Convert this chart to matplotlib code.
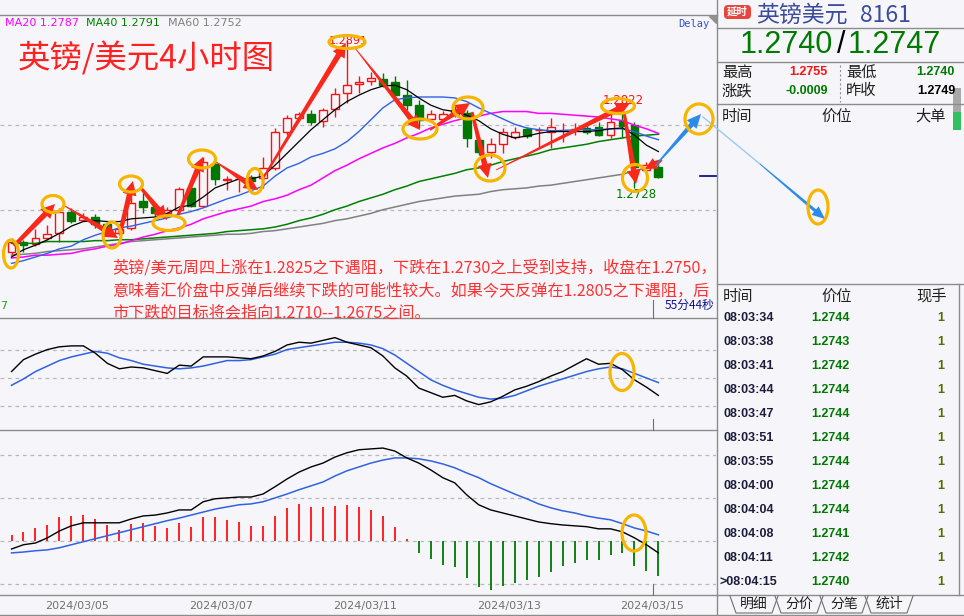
import matplotlib
matplotlib.use('Agg')
import matplotlib.pyplot as plt
import numpy as np
from matplotlib.patches import Ellipse, Polygon, Rectangle, FancyBboxPatch

plt.rcParams['font.family'] = ['Noto Sans CJK SC', 'DejaVu Sans']

# ---------------- data ----------------
opens = [1.2658, 1.2669, 1.2666, 1.2673, 1.2678, 1.2702, 1.2693, 1.2696, 1.2688, 1.2678,
         1.2684, 1.2714, 1.2707, 1.2700, 1.2704, 1.2728, 1.2708, 1.2754, 1.2737, 1.2738,
         1.2740, 1.2739, 1.2750, 1.2790, 1.2805, 1.2809, 1.2802, 1.2815, 1.2832, 1.2842,
         1.2846, 1.2848, 1.2844, 1.2830, 1.2819, 1.2804, 1.2804, 1.2808, 1.2810, 1.2781,
         1.2768, 1.2776, 1.2784, 1.2793, 1.2792, 1.2790, 1.2792, 1.2793, 1.2794, 1.2795,
         1.2786, 1.2802, 1.2797, 1.2748, 1.2751]
highs = [1.2673, 1.2671, 1.2683, 1.2687, 1.2706, 1.2706, 1.2700, 1.2699, 1.2690, 1.2688,
         1.2722, 1.2722, 1.2709, 1.2707, 1.2729, 1.2731, 1.2762, 1.2759, 1.2741, 1.2740,
         1.2742, 1.2762, 1.2794, 1.2808, 1.2812, 1.2814, 1.2816, 1.2838, 1.2891, 1.2851,
         1.2856, 1.2854, 1.2851, 1.2847, 1.2825, 1.2814, 1.2813, 1.2818, 1.2814, 1.2784,
         1.2783, 1.2794, 1.2795, 1.2795, 1.2795, 1.2805, 1.2799, 1.2799, 1.2799, 1.2800,
         1.2810, 1.2822, 1.2800, 1.2757, 1.2755]
lows = [1.2653, 1.2658, 1.2664, 1.2671, 1.2669, 1.2689, 1.2692, 1.2684, 1.2675, 1.2676,
        1.2682, 1.2700, 1.2696, 1.2696, 1.2702, 1.2707, 1.2707, 1.2731, 1.2726, 1.2724,
        1.2732, 1.2728, 1.2748, 1.2786, 1.2803, 1.2797, 1.2795, 1.2806, 1.2821, 1.2832,
        1.2841, 1.2839, 1.2829, 1.2814, 1.2794, 1.2802, 1.2803, 1.2806, 1.2773, 1.2764,
        1.2761, 1.2766, 1.2782, 1.2783, 1.2773, 1.2772, 1.2778, 1.2786, 1.2787, 1.2785,
        1.2783, 1.2783, 1.2728, 1.2746, 1.2739]
closes = [1.2669, 1.2665, 1.2673, 1.2677, 1.2702, 1.2692, 1.2696, 1.2688, 1.2680, 1.2683,
          1.2711, 1.2707, 1.2700, 1.2704, 1.2727, 1.2708, 1.2757, 1.2738, 1.2738, 1.2738,
          1.2736, 1.2750, 1.2790, 1.2805, 1.2809, 1.2801, 1.2814, 1.2831, 1.2841, 1.2844,
          1.2849, 1.2841, 1.2830, 1.2819, 1.2803, 1.2809, 1.2809, 1.2814, 1.2783, 1.2768,
          1.2776, 1.2790, 1.2790, 1.2785, 1.2792, 1.2795, 1.2792, 1.2793, 1.2790, 1.2786,
          1.2800, 1.2796, 1.2751, 1.2753, 1.2740]

ma5 = [1.2652, 1.2660, 1.2665, 1.2671, 1.2678, 1.2686, 1.2691, 1.2692, 1.2691, 1.2691,
       1.2694, 1.2695, 1.2696, 1.2700, 1.2707, 1.2709, 1.2718, 1.2728, 1.2733, 1.2738,
       1.2738, 1.2741, 1.2753, 1.2766, 1.2779, 1.2792, 1.2803, 1.2814, 1.2823, 1.2830,
       1.2836, 1.2840, 1.2841, 1.2836, 1.2827, 1.2819, 1.2814, 1.2812, 1.2808, 1.2802,
       1.2793, 1.2787, 1.2783, 1.2785, 1.2788, 1.2790, 1.2790, 1.2790, 1.2790, 1.2791,
       1.2793, 1.2794, 1.2786, 1.2775, 1.2768]
ma10 = [1.2645, 1.2648, 1.2652, 1.2656, 1.2661, 1.2664, 1.2671, 1.2676, 1.2680, 1.2684,
        1.2686, 1.2689, 1.2692, 1.2695, 1.2699, 1.2702, 1.2706, 1.2711, 1.2716, 1.2720,
        1.2725, 1.2730, 1.2741, 1.2750, 1.2755, 1.2762, 1.2766, 1.2771, 1.2779, 1.2790,
        1.2803, 1.2816, 1.2825, 1.2827, 1.2828, 1.2828, 1.2828, 1.2827, 1.2823, 1.2816,
        1.2810, 1.2804, 1.2798, 1.2794, 1.2792, 1.2791, 1.2791, 1.2792, 1.2792, 1.2792,
        1.2793, 1.2793, 1.2790, 1.2785, 1.2781]
ma20 = [1.2651, 1.2652, 1.2654, 1.2654, 1.2655, 1.2656, 1.2659, 1.2661, 1.2664, 1.2666,
        1.2670, 1.2674, 1.2677, 1.2681, 1.2684, 1.2688, 1.2694, 1.2698, 1.2702, 1.2705,
        1.2708, 1.2713, 1.2716, 1.2720, 1.2726, 1.2731, 1.2739, 1.2747, 1.2753, 1.2760,
        1.2766, 1.2772, 1.2777, 1.2783, 1.2788, 1.2794, 1.2798, 1.2802, 1.2805, 1.2807,
        1.2810, 1.2812, 1.2812, 1.2812, 1.2810, 1.2810, 1.2809, 1.2808, 1.2807, 1.2806,
        1.2804, 1.2802, 1.2797, 1.2793, 1.2788]
ma40 = [1.2667, 1.2667, 1.2667, 1.2669, 1.2669, 1.2669, 1.2669, 1.2670, 1.2670, 1.2671,
        1.2671, 1.2672, 1.2673, 1.2674, 1.2675, 1.2676, 1.2677, 1.2678, 1.2680, 1.2681,
        1.2682, 1.2683, 1.2685, 1.2688, 1.2692, 1.2695, 1.2699, 1.2704, 1.2708, 1.2713,
        1.2717, 1.2721, 1.2726, 1.2730, 1.2735, 1.2738, 1.2741, 1.2744, 1.2748, 1.2750,
        1.2753, 1.2757, 1.2760, 1.2763, 1.2766, 1.2770, 1.2772, 1.2774, 1.2776, 1.2779,
        1.2781, 1.2783, 1.2785, 1.2786, 1.2787]
ma60 = [1.2654, 1.2655, 1.2656, 1.2658, 1.2659, 1.2660, 1.2661, 1.2663, 1.2665, 1.2667,
        1.2669, 1.2670, 1.2671, 1.2672, 1.2673, 1.2674, 1.2675, 1.2676, 1.2677, 1.2677,
        1.2678, 1.2680, 1.2681, 1.2683, 1.2685, 1.2687, 1.2689, 1.2692, 1.2694, 1.2697,
        1.2700, 1.2704, 1.2707, 1.2710, 1.2713, 1.2715, 1.2717, 1.2719, 1.2720, 1.2721,
        1.2724, 1.2726, 1.2727, 1.2728, 1.2730, 1.2731, 1.2733, 1.2735, 1.2737, 1.2739,
        1.2741, 1.2743, 1.2747, 1.2750, 1.2753]

k_line = [57, 70, 76, 81, 84, 85, 85, 77, 66, 60, 62, 61, 58, 55, 64, 63, 73, 73, 73, 72,
          71, 74, 79, 86, 89, 88, 91, 94, 89, 86, 83, 74, 61, 52, 39, 34, 29, 31, 25, 21,
          24, 30, 37, 41, 46, 52, 57, 64, 71, 65, 66, 59, 48, 40, 31]
d_line = [42, 49, 57, 63, 69, 73, 76, 79, 77, 72, 69, 65, 63, 61, 60, 61, 63, 66, 69, 69,
          70, 73, 76, 81, 83, 85, 87, 89, 89, 88, 86, 82, 75, 66, 57, 48, 42, 37, 33, 29,
          27, 28, 31, 36, 41, 45, 49, 53, 57, 60, 62, 60, 55, 50, 45]
kd_grid = [80, 50, 20]

dif = [-1.9, -0.9, -0.5, 0.7, 2.3, 3.5, 4.2, 4.2, 4.2, 4.2, 5.1, 5.8, 6.0, 6.5, 7.2, 7.2,
       9.1, 9.8, 10.0, 10.2, 10.2, 10.9, 12.6, 14.4, 16.0, 17.2, 18.1, 19.5, 20.5, 21.2,
       21.4, 21.6, 20.9, 19.3, 18.1, 16.5, 14.7, 13.5, 10.7, 8.4, 7.2, 6.5, 5.8, 5.1, 4.4,
       4.0, 3.7, 3.5, 3.3, 2.8, 2.8, 2.1, 0.7, -0.9, -2.8]
dea = [-2.8, -2.6, -2.3, -2.1, -1.6, -0.9, -0.2, 0.5, 1.2, 1.9, 2.6, 3.3, 4.0, 4.7, 5.3,
       6.0, 6.7, 7.4, 7.9, 8.4, 8.6, 9.1, 10.0, 10.9, 11.9, 12.8, 13.7, 15.1, 16.3, 17.2,
       18.1, 18.8, 19.3, 19.3, 19.1, 18.6, 17.9, 17.0, 15.8, 14.7, 13.3, 12.1, 10.9, 9.8,
       8.6, 7.7, 7.0, 6.5, 5.8, 5.3, 4.9, 4.0, 3.0, 2.3, 1.4]
hist = [1.4, 2.1, 3.0, 3.7, 5.6, 5.8, 6.0, 5.1, 3.7, 2.6, 4.0, 4.2, 3.5, 3.0, 4.2, 3.3,
        5.6, 5.6, 4.9, 4.4, 3.5, 3.5, 5.8, 7.7, 8.6, 7.9, 7.9, 8.1, 8.4, 7.9, 7.2, 5.8,
        3.3, 0.5, -2.8, -4.2, -5.6, -6.0, -8.6, -10.7, -11.4, -10.5, -9.8, -9.1, -8.4,
        -7.2, -5.8, -5.1, -4.4, -4.4, -3.3, -2.8, -5.8, -7.0, -8.1]
macd_grid = [20, 10, 0, -10]

main_grid = [1.2797, 1.2704]
date_pos = [5.5, 17.5, 29.5, 41.5, 53.5]
date_labels = ['2024/03/05', '2024/03/07', '2024/03/11', '2024/03/13', '2024/03/15']

ma_legend = [('MA20', '1.2787'), ('MA40', '1.2791'), ('MA60', '1.2752')]
title = '英镑/美元4小时图'
comment = ['英镑/美元周四上涨在1.2825之下遇阻，下跌在1.2730之上受到支持，收盘在1.2750，',
           '意味着汇价盘中反弹后继续下跌的可能性较大。如果今天反弹在1.2805之下遇阻，后',
           '市下跌的目标将会指向1.2710--1.2675之间。']
high_label, mid_label, low_label = '1.2891', '1.2822', '1.2728'

quote_name, quote_code = '英镑美元', '8161'
bid, ask = '1.2740', '1.2747'
info_rows = [('最高', '1.2755', '最低', '1.2740'), ('涨跌', '-0.0009', '昨收', '1.2749')]
tick_times = ['08:03:34', '08:03:38', '08:03:41', '08:03:44', '08:03:47', '08:03:51',
              '08:03:55', '08:04:00', '08:04:04', '08:04:08', '08:04:11', '>08:04:15']
tick_prices = ['1.2744', '1.2743', '1.2742', '1.2744', '1.2744', '1.2744',
               '1.2744', '1.2744', '1.2744', '1.2741', '1.2742', '1.2740']
tick_vols = [1] * 12
tabs = ['明细', '分价', '分笔', '统计']

# ---------------- style ----------------
W, H = 964, 616
BG = '#f6f6fa'
RED = '#ff1010'
GREEN = '#007800'
BLUE = '#2f62e0'
MAG = '#ff00ff'
GRAY = '#808080'
YEL = '#f7b500'
ARROW_RED = '#f8281a'

fig = plt.figure(figsize=(W / 100, H / 100), dpi=100, facecolor=BG)


def px_axes(x0, y0, x1, y1):
    return fig.add_axes([x0 / W, 1 - y1 / H, (x1 - x0) / W, (y1 - y0) / H])


step = 11.98
XL = (-11.5 / step, (716 - 11.5) / step)
ax = px_axes(0, 15, 716, 318)
ax1 = px_axes(0, 318, 716, 430)
ax2 = px_axes(0, 430, 716, 595)
for a in (ax, ax1, ax2):
    a.set_facecolor(BG)
    a.set_xlim(*XL)
    for s in a.spines.values():
        s.set_visible(False)
    a.set_yticks([])
    a.set_xticks([])

ax.set_ylim(1.25849, 1.29182)
ax1.set_ylim(-6.7, 115.4)
ax2.set_ylim(-12.6, 25.8)

dash = dict(color='#b8b8b8', lw=0.9, ls=(0, (3, 3)))
for g in main_grid:
    ax.axhline(g, **dash, zorder=0)
for g in kd_grid:
    ax1.axhline(g, **dash, zorder=0)
for g in macd_grid:
    ax2.axhline(g, **dash, zorder=0)

# candles
x = np.arange(len(opens))
o, h, l, c = map(np.array, (opens, highs, lows, closes))
up = c >= o
bw = 0.66
ax.vlines(x, l, h, colors=[RED if u else GREEN for u in up], lw=1, zorder=2)
bot = np.minimum(o, c)
hh = np.maximum(np.abs(c - o), 0.00002)
ax.bar(x[up], hh[up], bottom=bot[up], width=bw, facecolor=BG, edgecolor=RED, lw=1, zorder=3)
ax.bar(x[~up], hh[~up], bottom=bot[~up], width=bw, facecolor=GREEN, edgecolor=GREEN, lw=1, zorder=3)

ax.plot(x, ma60, color=GRAY, lw=1.1, zorder=4)
ax.plot(x, ma40, color='#008000', lw=1.1, zorder=4)
ax.plot(x, ma20, color=MAG, lw=1.1, zorder=4)
ax.plot(x, ma10, color=BLUE, lw=1.0, zorder=4)
ax.plot(x, ma5, color='black', lw=0.9, zorder=4)

ax1.plot(x, d_line, color=BLUE, lw=1.1)
ax1.plot(x, k_line, color='black', lw=1.0)

hv = np.array(hist)
ax2.vlines(x, 0, hv, colors=[RED if v > 0 else GREEN for v in hv], lw=1.3)
ax2.plot(x, dea, color=BLUE, lw=1.1)
ax2.plot(x, dif, color='black', lw=1.0)
ax2.set_xticks(date_pos, date_labels)
ax2.tick_params(axis='x', length=0, pad=4, labelsize=8, labelcolor='#707070')
for t in ax2.get_xticklabels():
    t.set_family('DejaVu Sans')

# ---------------- overlay in pixel coordinates ----------------
ov = fig.add_axes([0, 0, 1, 1], zorder=10)
ov.set_xlim(0, W)
ov.set_ylim(H, 0)
ov.axis('off')

LC = '#8c8c8c'
for yy in (15, 318, 430, 595):
    ov.plot([0, 717], [yy, yy], color=LC, lw=1)
ov.plot([717, 717], [0, 616], color=LC, lw=1)
ov.plot([0, 964], [615, 615], color=LC, lw=1)
for (y0, y1) in ((300, 318), (419, 430), (584, 595)):
    ov.plot([653, 653], [y0, y1], color='#707070', lw=0.8)
ov.plot([700, 716], [176, 176], color='#000080', lw=1.2)
ov.add_patch(Polygon([[709, 16], [716, 16], [716, 23]], closed=True, color='#909090'))

# legend / titles
mx = [5, 86, 168]
mc = [MAG, '#008000', GRAY]
for (nm, val), xx, cc in zip(ma_legend, mx, mc):
    ov.text(xx, 23, f'{nm} {val}', color=cc, fontsize=8, family='DejaVu Sans', va='center')
ov.text(18, 58, title, fontsize=23.3, color='#ff2020', va='center')
ov.text(678, 24, 'Delay', fontsize=7.5, color='#3050d0', family='DejaVu Sans Mono', va='center')

for i, line in enumerate(comment):
    ov.text(112, 268 + i * 22.5, line, fontsize=11.6, color='#ff3030', va='center')
ov.text(0, 306, '7', fontsize=8, color='#20a020', va='center', family='DejaVu Sans')
ov.text(714, 305, '55分44秒', fontsize=8.5, color='#101090', va='center', ha='right')

ov.text(348, 41, high_label, fontsize=8, color=RED, ha='center', va='center', family='DejaVu Sans')
ov.text(623, 100, mid_label, fontsize=8.5, color=RED, ha='center', va='center', family='DejaVu Sans')
ov.text(636, 195, low_label, fontsize=8.5, color=GREEN, ha='center', va='center', family='DejaVu Sans')


# arrows
def fat_arrow(p0, p1, color, w0=0.6, w1=2.8, hw=7.0, hl=14.0, alpha=1.0):
    p0 = np.array(p0, float)
    p1 = np.array(p1, float)
    d = p1 - p0
    L = np.hypot(*d)
    u = d / L
    n = np.array([-u[1], u[0]])
    b = p1 - u * min(hl, L * 0.8)
    pts = [p0 + n * w0, b + n * w1, b + n * hw, p1, b - n * hw, b - n * w1, p0 - n * w0]
    ov.add_patch(Polygon(pts, closed=True, color=color, lw=0, alpha=alpha, zorder=5))


red_arrows = [((14, 246), (55, 204), 2.0), ((65, 206), (118, 238), 0.5), ((120, 233), (133, 181), 2.0),
              ((141, 188), (167, 220), 1.5), ((178, 215), (203, 157), 1.5), ((216, 162), (258, 190), 0.5),
              ((262, 180), (346, 43), 1.0), ((355, 48), (420, 130), 0.4), ((430, 130), (470, 103), 0.8),
              ((472, 112), (488, 178), 1.5), ((496, 170), (630, 103), 0.4), ((624, 112), (636, 184), 1.5)]
for p0, p1, w0 in red_arrows:
    fat_arrow(p0, p1, ARROW_RED, w0=w0)
fat_arrow((662, 160), (645, 169), ARROW_RED, w0=1.0, hw=6, hl=12)
fat_arrow((655, 166), (701, 114), '#2a8ce8', w0=0.6, w1=2.4, hw=6.5, hl=14)
ov.plot([703, 760], [117, 164], color='#9cc8f2', lw=1.0, zorder=5)
fat_arrow((760, 164), (825, 219), '#2a8ce8', w0=0.5, w1=1.6, hw=5.5, hl=13)

ellipses = [((11, 254), 15, 28), ((53, 204), 22, 17), ((112, 235), 18, 26), ((131, 184), 23, 16),
            ((169, 223), 32, 15), ((202, 159), 27, 18), ((255, 181), 16, 25), ((347, 42), 36, 13),
            ((420, 129), 34, 20), ((468, 108), 30, 22), ((490, 168), 30, 26), ((618, 106), 33, 15),
            ((635, 178), 25, 27), ((699, 119), 28, 30), ((818, 207), 20, 34), ((622, 372), 24, 37),
            ((634, 533), 24, 36)]
for cxy, ew, eh in ellipses:
    ov.add_patch(Ellipse(cxy, ew, eh, fill=False, ec=YEL, lw=2.3, zorder=6))

# ---------------- right info panel ----------------
ov.add_patch(FancyBboxPatch((724, 5), 27, 14, boxstyle='round,pad=0,rounding_size=4',
                            fc='#e5473f', ec='none'))
ov.text(737.5, 12, '延时', fontsize=7.5, color='white', ha='center', va='center', weight='bold')
ov.text(756, 15, quote_name, fontsize=16.5, color='#3c4c9c', va='center')
ov.text(860, 15, quote_code, fontsize=16.5, color='#3c4c9c', va='center')
ov.plot([717, 964], [28, 28], color=LC, lw=1)
ov.text(740, 45, bid, fontsize=22, color='#007a00', va='center', family='Liberation Sans')
ov.text(841, 45, '/', fontsize=22, color='black', va='center', ha='center', family='Liberation Sans')
ov.text(848, 45, ask, fontsize=22, color='#007a00', va='center', family='Liberation Sans')
ov.plot([717, 964], [62, 62], color=LC, lw=1)
row_y = [72, 91]
val_cols = [[RED, '#007a00'], ['#007a00', 'black']]
for (a1, v1, a2, v2), yy, cols in zip(info_rows, row_y, val_cols):
    ov.text(722, yy, a1, fontsize=11, color='#202020', va='center')
    ov.text(828, yy, v1, fontsize=9, color=cols[0], va='center', ha='right',
            family='Liberation Sans', weight='bold')
    ov.text(846, yy, a2, fontsize=11, color='#202020', va='center')
    ov.text(955, yy, v2, fontsize=9, color=cols[1], va='center', ha='right',
            family='Liberation Sans', weight='bold')
ov.plot([840, 840], [65, 102], color='#909090', lw=0.8, ls=(0, (2, 2)))
ov.plot([717, 964], [104, 104], color=LC, lw=1)
ov.text(722, 116, '时间', fontsize=11, color='#202020', va='center')
ov.text(821, 116, '价位', fontsize=11, color='#202020', va='center')
ov.text(915, 116, '大单', fontsize=11, color='#202020', va='center')
ov.add_patch(Rectangle((953, 88), 8, 24, fc='#a8a8a8', ec='none'))
ov.add_patch(Rectangle((953, 112), 8, 18, fc='#30c060', ec='none'))

ov.plot([717, 964], [284, 284], color=LC, lw=1)
ov.plot([959, 959], [284, 595], color=LC, lw=1)
ov.text(723, 296, '时间', fontsize=11, color='#202020', va='center')
ov.text(821, 296, '价位', fontsize=11, color='#202020', va='center')
ov.text(916, 296, '现手', fontsize=11, color='#202020', va='center')
for i, (tt, pp, vv) in enumerate(zip(tick_times, tick_prices, tick_vols)):
    yy = 318 + i * 24
    xt = 724 if not tt.startswith('>') else 720
    ov.text(xt, yy, tt, fontsize=9, color='#1c1c3c', va='center', family='Liberation Sans', weight='bold')
    ov.text(811, yy, pp, fontsize=9, color='#007a00', va='center', family='Liberation Sans', weight='bold')
    ov.text(944, yy, str(vv), fontsize=9, color='#507000', va='center', ha='right',
            family='Liberation Sans', weight='bold')

ov.plot([717, 964], [595, 595], color=LC, lw=1)
tab_x = [(730, 778), (775, 823), (820, 868), (865, 913)]
for (x0, x1), name in zip(tab_x, tabs):
    ov.plot([x0, x0 + 6, x1 - 6, x1], [596, 613, 613, 596], color='#707070', lw=0.8)
    ov.text((x0 + x1) / 2, 604, name, fontsize=10, color='#202020', ha='center', va='center')

fig.savefig('out.png', dpi=100, facecolor=BG)
